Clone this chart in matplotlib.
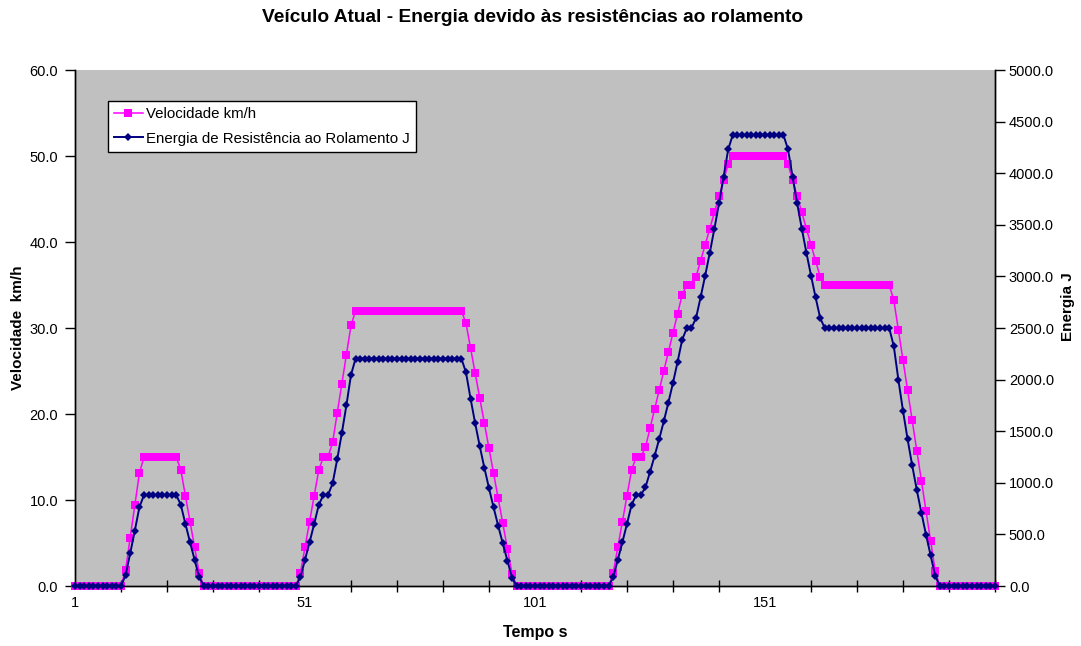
import numpy as np
import matplotlib
matplotlib.use("Agg")
import matplotlib.pyplot as plt
from matplotlib.ticker import FixedLocator, FormatStrFormatter

plt.rcParams['font.family'] = ['Liberation Sans', 'DejaVu Sans']

# Tempo (s): one sample per second, 201 samples
tempo = np.arange(1, 202)

# Velocidade (km/h)
velocidade = [
    0, 0, 0, 0, 0, 0, 0, 0, 0, 0, 0,
    1.875, 5.625, 9.375, 13.125,
    15, 15, 15, 15, 15, 15, 15, 15,
    13.5, 10.5, 7.5, 4.5, 1.5,
    0, 0, 0, 0, 0, 0, 0, 0, 0, 0, 0, 0, 0, 0, 0, 0, 0, 0, 0, 0, 0,
    1.5, 4.5, 7.5, 10.5, 13.5, 15, 15, 16.7, 20.1, 23.5, 26.9, 30.3,
    32, 32, 32, 32, 32, 32, 32, 32, 32, 32, 32, 32,
    32, 32, 32, 32, 32, 32, 32, 32, 32, 32, 32, 32,
    30.55, 27.64, 24.73, 21.82, 18.91, 16.0, 13.09, 10.18, 7.27, 4.36, 1.45,
    0, 0, 0, 0, 0, 0, 0, 0, 0, 0, 0, 0, 0, 0, 0, 0, 0, 0, 0, 0, 0,
    1.5, 4.5, 7.5, 10.5, 13.5, 15, 15,
    16.11, 18.33, 20.56, 22.78, 25.0, 27.22, 29.44, 31.67, 33.89, 35, 35,
    35.94, 37.81, 39.69, 41.56, 43.44, 45.31, 47.19, 49.06,
    50, 50, 50, 50, 50, 50, 50, 50, 50, 50, 50, 50,
    49.06, 47.19, 45.31, 43.44, 41.56, 39.69, 37.81, 35.94,
    35, 35, 35, 35, 35, 35, 35, 35, 35, 35, 35, 35, 35, 35, 35,
    33.25, 29.75, 26.25, 22.75, 19.25, 15.75, 12.25, 8.75, 5.25, 1.75,
    0, 0, 0, 0, 0, 0, 0, 0, 0, 0, 0, 0, 0,
]

# Energia de resistência ao rolamento (J)
energia = [
    0, 0, 0, 0, 0, 0, 0, 0, 0, 0, 0,
    105.1, 317.2, 535.4, 763.4,
    882.4, 882.4, 882.4, 882.4, 882.4, 882.4, 882.4, 882.4,
    786.9, 602.6, 425.3, 253.1, 84.0,
    0, 0, 0, 0, 0, 0, 0, 0, 0, 0, 0, 0, 0, 0, 0, 0, 0, 0, 0, 0, 0,
    84.0, 253.1, 425.3, 602.6, 786.9, 882.4, 882.4, 993.7, 1227.7, 1479.1, 1751.1, 2046.5,
    2203.9, 2203.9, 2203.9, 2203.9, 2203.9, 2203.9, 2203.9, 2203.9, 2203.9, 2203.9, 2203.9, 2203.9,
    2203.9, 2203.9, 2203.9, 2203.9, 2203.9, 2203.9, 2203.9, 2203.9, 2203.9, 2203.9, 2203.9, 2203.9,
    2069.2, 1813.2, 1575.0, 1352.5, 1144.0, 947.5, 761.2, 583.4, 411.9, 245.2, 81.2,
    0, 0, 0, 0, 0, 0, 0, 0, 0, 0, 0, 0, 0, 0, 0, 0, 0, 0, 0, 0, 0,
    84.0, 253.1, 425.3, 602.6, 786.9, 882.4, 882.4,
    954.8, 1103.9, 1260.6, 1424.3, 1596.4, 1777.8, 1969.3, 2172.8, 2387.1, 2498.9, 2498.9,
    2596.1, 2796.8, 3008.5, 3229.7, 3463.0, 3706.7, 3963.6, 4231.7,
    4371.3, 4371.3, 4371.3, 4371.3, 4371.3, 4371.3, 4371.3, 4371.3, 4371.3, 4371.3, 4371.3, 4371.3,
    4231.7, 3963.6, 3706.7, 3463.0, 3229.7, 3008.5, 2796.8, 2596.1,
    2498.9, 2498.9, 2498.9, 2498.9, 2498.9, 2498.9, 2498.9, 2498.9, 2498.9, 2498.9, 2498.9, 2498.9,
    2498.9, 2498.9, 2498.9,
    2324.1, 1997.0, 1697.4, 1422.0, 1167.7, 931.1, 709.1, 498.4, 295.8, 98.1,
    0, 0, 0, 0, 0, 0, 0, 0, 0, 0, 0, 0, 0,
]

rotulos_x = [1, 51, 101, 151]
ticks_vel = [0, 10, 20, 30, 40, 50, 60]
ticks_energia = [0, 500, 1000, 1500, 2000, 2500, 3000, 3500, 4000, 4500, 5000]

W, H = 1081, 646
fig = plt.figure(figsize=(W / 100, H / 100), dpi=100, facecolor='white')
ax = fig.add_axes([75 / W, 1 - 586 / H, 920 / W, 516 / H])
ax.set_facecolor('#C0C0C0')
ax2 = ax.twinx()

fs = 10.5
l1, = ax.plot(tempo, velocidade, color='#FF00FF', lw=1.1, marker='s', ms=5.8,
              markeredgewidth=0, label='Velocidade km/h', clip_on=False, zorder=3)
l2, = ax2.plot(tempo, energia, color='#000080', lw=1.4, marker='D', ms=4.4,
               markeredgewidth=0, label='Energia de Resistência ao Rolamento J',
               clip_on=False, zorder=3)

ax.set_xlim(1, 201)
ax.set_ylim(0, 60)
ax2.set_ylim(0, 5000)

ax.xaxis.set_major_locator(FixedLocator(rotulos_x))
ax.xaxis.set_minor_locator(FixedLocator(list(range(1, 202, 10))))
ax.set_xticklabels([str(v) for v in rotulos_x])
ax.tick_params(axis='x', which='both', direction='inout', length=8, width=1,
               labelsize=fs, pad=7)
ax.tick_params(axis='x', which='major', length=0)
ax.set_yticks(ticks_vel)
ax.yaxis.set_major_formatter(FormatStrFormatter('%.1f'))
ax.tick_params(axis='y', direction='out', length=7, width=1, labelsize=fs, pad=5)
ax2.set_yticks(ticks_energia)
ax2.yaxis.set_major_formatter(FormatStrFormatter('%.1f'))
ax2.tick_params(axis='y', direction='out', length=7, width=1, labelsize=fs, pad=3)

for a in (ax, ax2):
    a.spines['top'].set_visible(False)
    for s in ('left', 'right', 'bottom'):
        a.spines[s].set_linewidth(1.0)
        a.spines[s].set_color('black')

fig.text(533 / W, 1 - 17 / H, 'Veículo Atual - Energia devido às resistências ao rolamento',
         ha='center', va='center', fontsize=13.8, fontweight='bold')
fig.text(535 / W, 1 - 633 / H, 'Tempo s', ha='center', va='center',
         fontsize=11.5, fontweight='bold')
fig.text(18 / W, 1 - 328 / H, 'Velocidade  km/h', ha='center', va='center',
         rotation=90, fontsize=11, fontweight='bold')
fig.text(1068 / W, 1 - 307 / H, 'Energia J', ha='center', va='center',
         rotation=90, fontsize=11, fontweight='bold')

leg = ax2.legend(handles=[l1, l2], loc='upper left',
                 bbox_to_anchor=(108 / W, 1 - 101 / H), bbox_transform=fig.transFigure,
                 fontsize=10.8, frameon=True, fancybox=False, shadow=False,
                 borderaxespad=0, handlelength=1.9, handletextpad=0.25,
                 labelspacing=0.7, borderpad=0.4)
leg.get_frame().set_edgecolor('black')
leg.get_frame().set_linewidth(1.0)
leg.get_frame().set_facecolor('white')
leg.get_frame().set_alpha(1)

fig.savefig('out.png', dpi=100, facecolor='white')
